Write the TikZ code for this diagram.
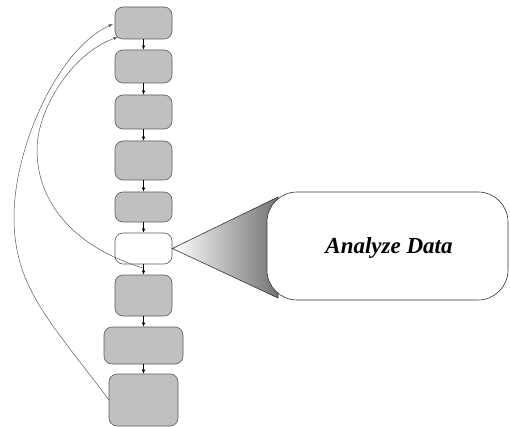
\documentclass[tikz,border=0pt]{standalone}
\usepackage{fontspec}
\setmainfont{Liberation Serif}
\usetikzlibrary{arrows.meta}
\definecolor{boxgray}{RGB}{192,192,192}
\definecolor{edgegray}{RGB}{90,90,90}
\begin{document}
\begin{tikzpicture}[x=1pt,y=-1pt,
  stepbox/.style={draw=edgegray,line width=0.6pt,fill=boxgray,rounded corners=8pt,inner sep=0pt,minimum width=57pt},
  whitebox/.style={stepbox,fill=white},
  flow/.style={black,line width=0.7pt,-{Latex[length=4pt,width=3.5pt]}},
  loop/.style={edgegray,line width=0.5pt,-{Latex[length=4.5pt,width=3pt]}},
  callout/.style={draw=black!80,line width=0.6pt,fill=white,rounded corners=30pt,minimum width=241pt,minimum height=108pt,inner sep=0pt}
]
\useasboundingbox (0,0) rectangle (510,427);
\node[stepbox,minimum height=32pt] (b1) at (143.5,23) {};
\node[stepbox,minimum height=33pt] (b2) at (143.5,66.5) {};
\node[stepbox,minimum height=34pt] (b3) at (143.5,112) {};
\node[stepbox,minimum height=39pt] (b4) at (143.5,160.5) {};
\node[stepbox,minimum height=30pt] (b5) at (143.5,207) {};
\node[whitebox,minimum height=31pt] (b6) at (143.5,248.5) {};
\node[stepbox,minimum height=41pt] (b7) at (143.5,295.5) {};
\node[stepbox,minimum height=37pt,minimum width=79pt] (b8) at (143.5,345.5) {};
\node[stepbox,minimum height=52pt,minimum width=69pt] (b9) at (143.5,400) {};
\foreach \a/\b in {b1/b2,b2/b3,b3/b4,b4/b5,b5/b6,b6/b7,b7/b8,b8/b9}
  \draw[flow] (\a) -- (\b);
% callout wedge
\coordinate (wt) at (278,197);
\coordinate (wb) at (278,298);
\shade[left color=white,right color=black!55,draw=black!80,line width=0.6pt] (b6.east) -- (wt) -- (wb) -- cycle;
\node[callout] (call) at (387.5,246) {};
\node (lbl) at (389,248) {\fontsize{23}{25}\selectfont\bfseries\itshape Analyze Data};
% loop-back curves
\coordinate (s1) at (109,400);
\coordinate (m1) at (14,217);
\coordinate (e1) at (113,24);
\draw[loop] (s1) .. controls (49,320) and (14,287) .. (m1)
  .. controls (14,147) and (58,49) .. (e1);
\coordinate (s2) at (143,268);
\coordinate (m2) at (37,150);
\coordinate (e2) at (118,37);
\draw[loop] (s2) .. controls (71,246) and (37,200) .. (m2)
  .. controls (37,110) and (71,54) .. (e2);
\end{tikzpicture}
\end{document}
